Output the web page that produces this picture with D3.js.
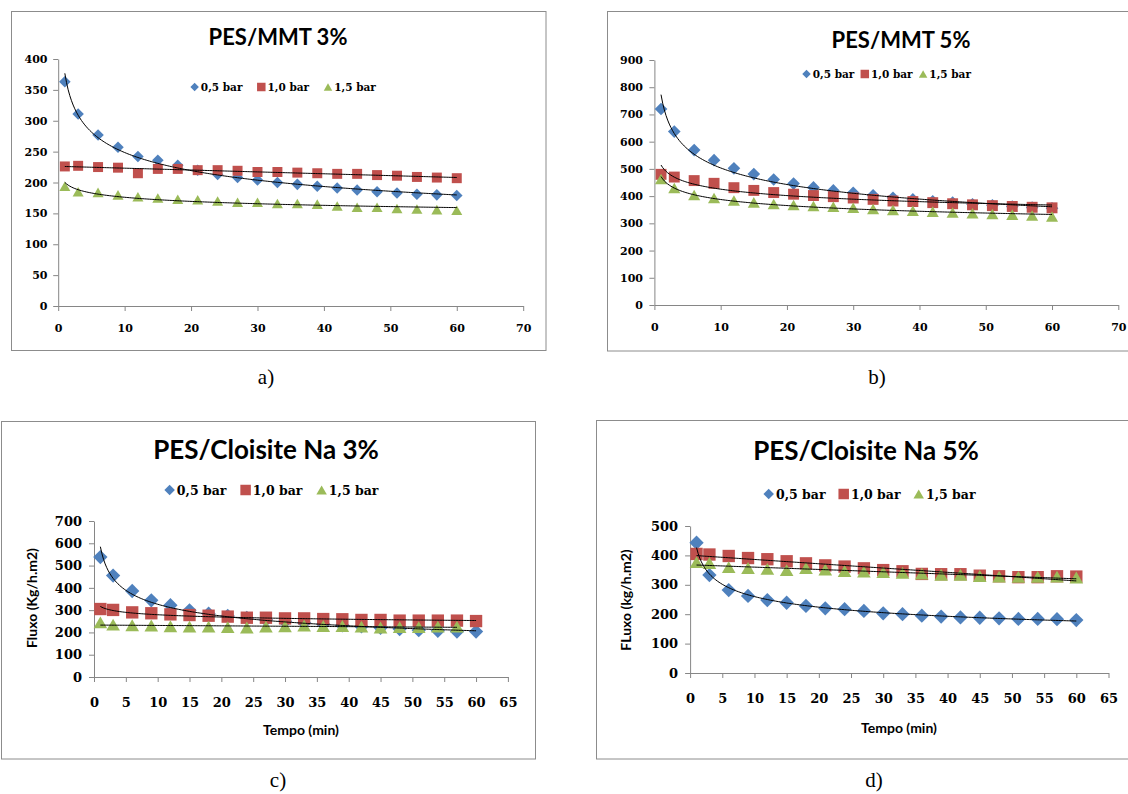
<!DOCTYPE html>
<html>
<head>
<meta charset="utf-8">
<script src="https://cdn.jsdelivr.net/npm/d3@7"></script>
<style>
  body { margin: 0; background: #fff; }
</style>
</head>
<body>
<div id="chart_div"></div>
<script>
// sampling times (min)
const times = [1, 3, 6, 9, 12, 15, 18, 21, 24, 27, 30, 33, 36, 39, 42, 45, 48, 51, 54, 57, 60];
const timesShort = times.slice(0, 20); // PES/Cloisite Na 3%, 1,5 bar stops at 57 min

const seriesNames = ["0,5 bar", "1,0 bar", "1,5 bar"];
const seriesColors = ["#4F81BD", "#C0504D", "#9BBB59"];

// flux values
const mmt3_05 = [363, 311, 277, 257, 242, 236, 228, 220, 213, 208, 204, 200, 197, 194, 191, 188, 185, 183, 181, 180, 179];
const mmt3_10 = [226, 227, 225, 224, 215, 222, 222, 220, 220, 219, 217, 217, 216, 215, 214, 214, 212, 211, 209, 208, 207];
const mmt3_15 = [194, 185, 184, 180, 177, 175, 173, 172, 170, 168, 168, 166, 166, 165, 162, 160, 160, 158, 157, 156, 155];

const mmt5_05 = [720, 637, 569, 532, 502, 481, 461, 446, 432, 421, 412, 403, 394, 388, 381, 376, 370, 366, 362, 358, 355];
const mmt5_10 = [480, 470, 457, 447, 431, 421, 413, 407, 402, 398, 393, 388, 382, 380, 376, 372, 368, 365, 362, 359, 357];
const mmt5_15 = [463, 430, 404, 393, 384, 377, 371, 367, 364, 361, 357, 353, 349, 346, 343, 340, 337, 334, 332, 329, 325];

const cna3_05 = [538, 455, 386, 344, 322, 299, 284, 274, 265, 257, 250, 243, 237, 232, 227, 221, 215, 210, 207, 204, 204];
const cna3_10 = [305, 301, 290, 286, 281, 278, 275, 271, 266, 266, 263, 263, 260, 259, 256, 256, 253, 253, 253, 253, 251];
const cna3_15 = [245, 235, 232, 231, 228, 226, 226, 224, 222, 226, 228, 231, 229, 229, 226, 222, 224, 224, 226, 226];

const cna5_05 = [443, 333, 282, 262, 248, 239, 228, 220, 217, 211, 203, 200, 195, 192, 189, 188, 186, 184, 184, 183, 180];
const cna5_10 = [405, 403, 398, 391, 387, 380, 373, 366, 362, 356, 350, 346, 337, 336, 336, 331, 329, 326, 326, 329, 328];
const cna5_15 = [377, 374, 360, 357, 354, 350, 357, 352, 347, 345, 343, 341, 338, 334, 334, 330, 328, 327, 327, 328, 325];

// Excel style marker shapes, size = width in px
const diamond = { draw(ctx, s) { const r = s / 2; ctx.moveTo(0, -r); ctx.lineTo(r, 0); ctx.lineTo(0, r); ctx.lineTo(-r, 0); ctx.closePath(); } };
const square = { draw(ctx, s) { ctx.rect(-s / 2, -s / 2, s, s); } };
const triangle = { draw(ctx, s) { const h = s * 0.87; ctx.moveTo(0, -h / 2); ctx.lineTo(s / 2, h / 2); ctx.lineTo(-s / 2, h / 2); ctx.closePath(); } };
const shapes = [diamond, square, triangle];
const shapeScale = [1.1, 0.95, 1.05]; // diamonds a bit wider than squares

// least squares trendline (linear or power, like Excel)
function trend(xs, ys, type) {
  const tx = type === "power" ? xs.map(Math.log) : xs;
  const ty = type === "power" ? ys.map(Math.log) : ys;
  const mx = d3.mean(tx), my = d3.mean(ty);
  const b = d3.sum(tx, (v, i) => (v - mx) * (ty[i] - my)) / d3.sum(tx, v => (v - mx) ** 2);
  const a = my - b * mx;
  return type === "power" ? x => Math.exp(a) * Math.pow(x, b) : x => a + b * x;
}

const panels = [
  {
    title: "PES/MMT 3%", caption: "a)",
    series: [[times, mmt3_05, "power"], [times, mmt3_10, "linear"], [times, mmt3_15, "power"]],
    frame: [11.5, 11.5, 546, 350.5],
    xr: [58.2, 523.2], xMax: 70, xStep: 10,
    yr: [306, 59], yMax: 400, yStep: 50,
    titleX: 278, titleY: 45, titleSize: 22,
    legX: 194.6, legStep: 66.7, legY: 87, legSize: 10.5, legMark: 8.5,
    tickSize: 11, xPad: 18.2, yPad: 10.7, mark: 10.5,
    captionX: 266, captionY: 384
  },
  {
    title: "PES/MMT 5%", caption: "b)",
    series: [[times, mmt5_05, "power"], [times, mmt5_10, "power"], [times, mmt5_15, "power"]],
    frame: [607.5, 11.5, 1140, 351],
    xr: [654.4, 1118.3], xMax: 70, xStep: 10,
    yr: [305, 60], yMax: 900, yStep: 100,
    titleX: 901, titleY: 48, titleSize: 22,
    legX: 806.5, legStep: 58.3, legY: 74, legSize: 10.5, legMark: 8.5,
    tickSize: 11, xPad: 18.2, yPad: 11.4, mark: 11.5,
    captionX: 877, captionY: 384
  },
  {
    title: "PES/Cloisite Na 3%", caption: "c)",
    series: [[times, cna3_05, "power"], [times, cna3_10, "power"], [timesShort, cna3_15, "linear"]],
    frame: [1.5, 421.5, 535.5, 759],
    xr: [94, 507.9], xMax: 65, xStep: 5,
    yr: [677, 521], yMax: 700, yStep: 100,
    titleX: 266, titleY: 459, titleSize: 26,
    legX: 169.6, legStep: 76, legY: 490, legSize: 12.5, legMark: 10.5,
    tickSize: 13, xPad: 20.8, yPad: 12, mark: 13,
    xTitle: "Tempo (min)", xTitleX: 301, xTitleY: 735,
    yTitle: "Fluxo (Kg/h.m2)", yTitleX: 37, yTitleY: 598,
    captionX: 278, captionY: 787
  },
  {
    title: "PES/Cloisite Na 5%", caption: "d)",
    series: [[times, cna5_05, "power"], [times, cna5_10, "linear"], [times, cna5_15, "linear"]],
    frame: [596.5, 420.5, 1140, 759],
    xr: [690.1, 1108.5], xMax: 65, xStep: 5,
    yr: [673, 526], yMax: 500, yStep: 100,
    titleX: 866, titleY: 460, titleSize: 26,
    legX: 768.7, legStep: 75, legY: 494, legSize: 12.5, legMark: 10.5,
    tickSize: 13, xPad: 20.8, yPad: 12, mark: 13,
    xTitle: "Tempo (min)", xTitleX: 899, xTitleY: 733,
    yTitle: "FLuxo (kg/h.m2)", yTitleX: 631, yTitleY: 600,
    captionX: 874, captionY: 787
  }
];

const svg = d3.select("#chart_div").append("svg")
  .attr("width", 1128)
  .attr("height", 794)
  .style("display", "block");

const serif = "'DejaVu Serif', serif";
const sans = "Lato, 'Open Sans', sans-serif";

panels.forEach(p => {
  const g = svg.append("g");
  const [fx0, fy0, fx1, fy1] = p.frame;

  // chart area border
  g.append("rect")
    .attr("x", fx0).attr("y", fy0)
    .attr("width", fx1 - fx0).attr("height", fy1 - fy0)
    .attr("fill", "#fff")
    .attr("stroke", "#8c8c8c");

  const x = d3.scaleLinear().domain([0, p.xMax]).range(p.xr);
  const y = d3.scaleLinear().domain([0, p.yMax]).range(p.yr);

  // axes
  const xAxis = g.append("g")
    .attr("transform", `translate(0,${p.yr[0]})`)
    .call(d3.axisBottom(x)
      .tickValues(d3.range(0, p.xMax + 1, p.xStep))
      .tickSize(5).tickSizeOuter(0)
      .tickPadding(p.xPad - 5));
  const yAxis = g.append("g")
    .attr("transform", `translate(${p.xr[0]},0)`)
    .call(d3.axisLeft(y)
      .tickValues(d3.range(0, p.yMax + 1, p.yStep))
      .tickSize(5).tickSizeOuter(0)
      .tickPadding(p.yPad - 5));
  [xAxis, yAxis].forEach(a => {
    a.select(".domain").attr("stroke", "#868686");
    a.selectAll(".tick line").attr("stroke", "#868686");
    a.selectAll(".tick text")
      .attr("fill", "#000")
      .style("font-family", serif)
      .style("font-weight", "bold")
      .style("font-size", p.tickSize + "px");
  });

  // markers, one series after another
  p.series.forEach(([xs, ys], i) => {
    g.append("g").selectAll("path")
      .data(xs.map((t, k) => [t, ys[k]]))
      .join("path")
      .attr("transform", d => `translate(${x(d[0])},${y(d[1])})`)
      .attr("d", d3.symbol().type(shapes[i]).size(p.mark * shapeScale[i]))
      .attr("fill", seriesColors[i]);
  });

  // trendlines on top
  const line = d3.line().x(d => x(d[0])).y(d => y(d[1]));
  p.series.forEach(([xs, ys, type]) => {
    const f = trend(xs, ys, type);
    const pts = d3.range(xs[0], xs[xs.length - 1] + 0.001, 0.25).map(t => [t, f(t)]);
    g.append("path")
      .attr("d", line(pts))
      .attr("fill", "none")
      .attr("stroke", "#000")
      .attr("stroke-width", 1);
  });

  // title
  g.append("text")
    .attr("x", p.titleX).attr("y", p.titleY)
    .attr("text-anchor", "middle")
    .style("font-family", sans)
    .style("font-weight", "bold")
    .style("font-size", p.titleSize + "px")
    .text(p.title);

  // legend
  seriesNames.forEach((name, i) => {
    const lx = p.legX + i * p.legStep;
    g.append("path")
      .attr("transform", `translate(${lx},${p.legY})`)
      .attr("d", d3.symbol().type(shapes[i]).size(p.legMark))
      .attr("fill", seriesColors[i]);
    g.append("text")
      .attr("x", lx + p.legMark / 2 + 2)
      .attr("y", p.legY + p.legSize * 0.36)
      .style("font-family", serif)
      .style("font-weight", "bold")
      .style("font-size", p.legSize + "px")
      .text(name);
  });

  // axis titles (bottom panels only)
  if (p.xTitle) {
    g.append("text")
      .attr("x", p.xTitleX).attr("y", p.xTitleY)
      .attr("text-anchor", "middle")
      .style("font-family", sans)
      .style("font-weight", "bold")
      .style("font-size", "14px")
      .text(p.xTitle);
    g.append("text")
      .attr("transform", `translate(${p.yTitleX},${p.yTitleY}) rotate(-90)`)
      .attr("text-anchor", "middle")
      .style("font-family", sans)
      .style("font-weight", "bold")
      .style("font-size", "14px")
      .text(p.yTitle);
  }

  // panel caption under the frame
  svg.append("text")
    .attr("x", p.captionX).attr("y", p.captionY)
    .attr("text-anchor", "middle")
    .style("font-family", "'Liberation Serif', 'Times New Roman', serif")
    .style("font-size", "21px")
    .text(p.caption);
});
</script>
</body>
</html>
